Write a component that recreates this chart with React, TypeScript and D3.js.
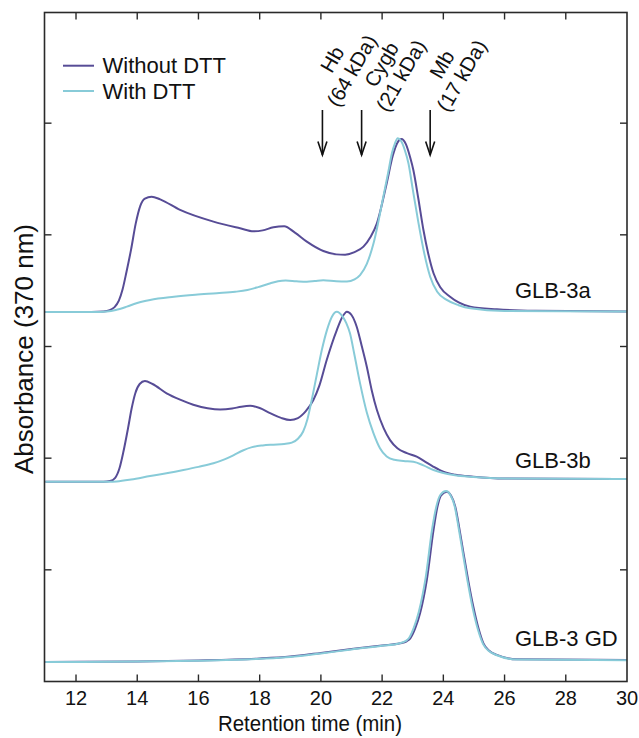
import React from "react";
import * as d3 from "d3";

type Pt = [number, number];

// x axis
const timeTicks = [12, 14, 16, 18, 20, 22, 24, 26, 28, 30];
const timeDomain: [number, number] = [11, 30];
const absDomain: [number, number] = [0, 6];
const absTicks = [1, 2, 3, 4, 5];

// series names
const seriesNames = ["Without DTT", "With DTT"];
const seriesColors = ["#574c96", "#88cbd8"];

// traces: [retention time (min), absorbance above trace baseline]
const glb3aWithout: Pt[] = [
  [11, 0], [12.5, 0], [12.9, 0.004], [13.1, 0.015], [13.25, 0.04], [13.4, 0.1], [13.52, 0.2],
  [13.65, 0.36], [13.8, 0.56], [13.95, 0.79], [14.1, 0.95], [14.25, 1.015], [14.47, 1.032],
  [14.75, 1.008], [15.4, 0.913], [16.49, 0.808], [17.36, 0.749], [17.8, 0.722], [18.1, 0.73],
  [18.45, 0.758], [18.8, 0.766], [19.15, 0.71], [19.54, 0.629], [20.08, 0.545], [20.5, 0.515],
  [20.79, 0.512], [21.1, 0.535], [21.39, 0.584], [21.62, 0.67], [21.83, 0.793], [22.15, 1.152],
  [22.35, 1.4], [22.5, 1.515], [22.63, 1.548], [22.78, 1.5], [22.92, 1.38], [23.02, 1.271],
  [23.18, 1.02], [23.35, 0.733], [23.5, 0.53], [23.68, 0.346], [23.9, 0.22], [24.22, 0.136],
  [24.5, 0.085], [24.88, 0.047], [25.75, 0.023], [27, 0.01], [30, 0.004],
];
const glb3aWith: Pt[] = [
  [11, 0], [12.8, 0], [13.0, 0.003], [13.3, 0.017], [13.66, 0.047], [14.0, 0.08], [14.42, 0.107],
  [15.2, 0.135], [15.9, 0.153], [16.6, 0.167], [17.2, 0.18], [17.6, 0.196], [17.95, 0.222],
  [18.3, 0.252], [18.6, 0.274], [18.85, 0.28], [19.2, 0.274], [19.54, 0.27], [19.8, 0.276],
  [20.08, 0.283], [20.5, 0.274], [20.85, 0.272], [21.1, 0.292], [21.28, 0.33], [21.5, 0.43],
  [21.72, 0.614], [22.04, 1.032], [22.2, 1.25], [22.32, 1.42], [22.42, 1.51], [22.51, 1.555],
  [22.62, 1.53], [22.74, 1.45], [22.86, 1.331], [23.0, 1.1], [23.19, 0.793], [23.38, 0.52],
  [23.57, 0.315], [23.8, 0.18], [24.11, 0.107], [24.5, 0.06], [24.88, 0.032], [26, 0.008],
  [30, 0.004],
];
const glb3bWithout: Pt[] = [
  [11, 0], [12.9, 0], [13.11, 0.006], [13.28, 0.035], [13.42, 0.12], [13.55, 0.27], [13.7, 0.48],
  [13.82, 0.66], [13.94, 0.795], [14.08, 0.875], [14.25, 0.902], [14.5, 0.875], [14.96, 0.792],
  [15.4, 0.735], [15.83, 0.69], [16.3, 0.658], [16.71, 0.646], [17.1, 0.655], [17.4, 0.672],
  [17.69, 0.68], [18.0, 0.66], [18.34, 0.615], [18.7, 0.572], [19.0, 0.553], [19.25, 0.57],
  [19.5, 0.63], [19.75, 0.73], [19.95, 0.86], [20.19, 1.09], [20.52, 1.358], [20.7, 1.475],
  [20.85, 1.522], [21.0, 1.493], [21.17, 1.388], [21.33, 1.22], [21.5, 1.03], [21.66, 0.82],
  [21.83, 0.642], [22.05, 0.48], [22.26, 0.373], [22.5, 0.3], [22.81, 0.256], [23.13, 0.224],
  [23.4, 0.18], [23.68, 0.134], [24.0, 0.09], [24.4, 0.062], [24.98, 0.045], [26, 0.029],
  [30, 0.024],
];
const glb3bWith: Pt[] = [
  [11, 0], [13.1, 0], [13.33, 0.003], [13.8, 0.02], [14.42, 0.051], [15.0, 0.078], [15.51, 0.105],
  [16.0, 0.133], [16.49, 0.165], [16.85, 0.2], [17.14, 0.236], [17.45, 0.28], [17.75, 0.31],
  [18.1, 0.325], [18.45, 0.332], [18.8, 0.338], [19.05, 0.35], [19.25, 0.385], [19.42, 0.45],
  [19.56, 0.56], [19.7, 0.732], [19.86, 0.95], [20.03, 1.179], [20.2, 1.36], [20.36, 1.478],
  [20.52, 1.522], [20.7, 1.483], [20.83, 1.42], [20.95, 1.329], [21.1, 1.13], [21.28, 0.881],
  [21.5, 0.62], [21.72, 0.433], [21.93, 0.3], [22.15, 0.226], [22.4, 0.196], [22.7, 0.186],
  [23.02, 0.179], [23.35, 0.147], [23.68, 0.105], [24.0, 0.078], [24.33, 0.06], [24.98, 0.042],
  [26, 0.029], [30, 0.024],
];
const glb3gdWithout: Pt[] = [
  [11, 0], [14, 0.004], [16, 0.013], [18, 0.031], [19, 0.049], [20, 0.081], [21, 0.116],
  [22, 0.148], [22.59, 0.167], [22.8, 0.185], [22.92, 0.212], [23.08, 0.3], [23.24, 0.436],
  [23.46, 0.734], [23.68, 1.182], [23.8, 1.38], [23.92, 1.49], [24.11, 1.525], [24.25, 1.49],
  [24.39, 1.391], [24.52, 1.2], [24.66, 0.973], [24.82, 0.72], [24.98, 0.495], [25.15, 0.3],
  [25.31, 0.167], [25.5, 0.1], [25.75, 0.063], [26.4, 0.024], [30, 0.018],
];
const glb3gdWith: Pt[] = [
  [11, 0], [14, 0.003], [16, 0.011], [18, 0.028], [19, 0.044], [20, 0.076], [21, 0.112],
  [22, 0.145], [22.55, 0.166], [22.76, 0.186], [22.88, 0.215], [23.04, 0.31], [23.2, 0.45],
  [23.42, 0.75], [23.64, 1.2], [23.77, 1.39], [23.9, 1.495], [24.09, 1.53], [24.23, 1.495],
  [24.37, 1.395], [24.5, 1.2], [24.64, 0.97], [24.8, 0.71], [24.96, 0.48], [25.13, 0.29],
  [25.3, 0.16], [25.5, 0.095], [25.75, 0.06], [26.4, 0.022], [30, 0.016],
];

// sample names, vertical offsets of each stacked trace
const sampleNames = ["GLB-3a", "GLB-3b", "GLB-3 GD"];
const sampleOffsets = [3.31, 1.789, 0.175];
const sampleTraces: Pt[][][] = [
  [glb3aWithout, glb3aWith],
  [glb3bWithout, glb3bWith],
  [glb3gdWithout, glb3gdWith],
];

// calibration markers
const markerNames = ["Hb", "Cygb", "Mb"];
const markerMasses = ["(64 kDa)", "(21 kDa)", "(17 kDa)"];
const markerTimes = [20.05, 21.33, 23.57];

const W = 639;
const H = 738;
const M = { left: 44.5, right: 12, top: 11.5, bottom: 56.5 };
const FONT = "'Liberation Sans', Arial, Helvetica, sans-serif";

export default function App() {
  const x = d3.scaleLinear().domain(timeDomain).range([M.left + 0.9, W - M.right]);
  const y = d3.scaleLinear().domain(absDomain).range([H - M.bottom, M.top]);
  const x0 = M.left;
  const x1 = W - M.right;
  const y0 = H - M.bottom;
  const y1 = M.top + 1;
  const tick = 7;
  const axisColor = "#2a2a2a";

  const line = (off: number) =>
    d3
      .line<Pt>()
      .x((d) => x(d[0]))
      .y((d) => y(d[1] + off))
      .curve(d3.curveMonotoneX);

  const labelDx = [16, 26, 18];
  const labelY = 63;

  return (
    <svg
      width={W}
      height={H}
      style={{ position: "absolute", left: 0, top: 0, display: "block", background: "#fff" }}
      fontFamily={FONT}
    >
      {/* traces */}
      {sampleTraces.map((pair, i) => (
        <g key={i}>
          {pair.map((data, j) => (
            <path
              key={j}
              d={line(sampleOffsets[i])(data) || ""}
              fill="none"
              stroke={seriesColors[j]}
              strokeWidth={2}
              strokeLinejoin="round"
            />
          ))}
        </g>
      ))}

      {/* sample labels */}
      {sampleNames.map((s, i) => (
        <text
          key={s}
          x={515}
          y={y(sampleOffsets[i]) - (i === 2 ? 16 : 14)}
          fontSize={22}
          fill="#111"
        >
          {s}
        </text>
      ))}

      {/* frame */}
      <rect x={x0} y={y1} width={x1 - x0} height={y0 - y1} fill="none" stroke={axisColor} strokeWidth={1.6} />

      {/* x ticks top & bottom */}
      {timeTicks
        .filter((t) => t < timeDomain[1])
        .map((t) => (
          <g key={t}>
            <line x1={x(t)} x2={x(t)} y1={y0} y2={y0 - tick} stroke={axisColor} strokeWidth={1.4} />
            <line x1={x(t)} x2={x(t)} y1={y1} y2={y1 + tick} stroke={axisColor} strokeWidth={1.4} />
          </g>
        ))}
      {timeTicks.map((t) => (
        <text key={t} x={x(t)} y={704.5} fontSize={20} textAnchor="middle" fill="#111">
          {t}
        </text>
      ))}

      {/* y ticks left & right */}
      {absTicks.map((v) => (
        <g key={v}>
          <line x1={x0} x2={x0 + tick} y1={y(v)} y2={y(v)} stroke={axisColor} strokeWidth={1.4} />
          <line x1={x1} x2={x1 - tick} y1={y(v)} y2={y(v)} stroke={axisColor} strokeWidth={1.4} />
        </g>
      ))}

      {/* axis titles */}
      <text
        x={310}
        y={730.5}
        fontSize={22}
        textAnchor="middle"
        textLength={184}
        lengthAdjust="spacingAndGlyphs"
        fill="#111"
      >
        Retention time (min)
      </text>
      <text
        transform={`translate(33,349) rotate(-90)`}
        fontSize={26}
        textAnchor="middle"
        fill="#111"
      >
        Absorbance (370 nm)
      </text>

      {/* legend */}
      {seriesNames.map((s, i) => (
        <g key={s}>
          <line x1={63} x2={94} y1={65.7 + i * 25.3} y2={65.7 + i * 25.3} stroke={seriesColors[i]} strokeWidth={2} />
          <text x={102.5} y={72.7 + i * 25.8} fontSize={22} fill="#111">
            {s}
          </text>
        </g>
      ))}

      {/* marker arrows and labels */}
      {markerTimes.map((t, i) => {
        const ax = x(t);
        return (
          <g key={markerNames[i]}>
            <line x1={ax} x2={ax} y1={110} y2={155} stroke="#111" strokeWidth={1.6} />
            <polyline
              points={`${ax - 4.5},${141.5} ${ax},${155} ${ax + 4.5},${141.5}`}
              fill="none"
              stroke="#111"
              strokeWidth={1.6}
            />
            <g transform={`translate(${ax + labelDx[i]},${labelY + (i === 0 ? 0 : 5)}) rotate(-60)`}>
              <text x={0} y={0} fontSize={20.5} textAnchor="middle" fill="#111">
                {markerNames[i]}
              </text>
              <text x={0} y={22.5} fontSize={20.5} textAnchor="middle" fill="#111">
                {markerMasses[i]}
              </text>
            </g>
          </g>
        );
      })}
    </svg>
  );
}
